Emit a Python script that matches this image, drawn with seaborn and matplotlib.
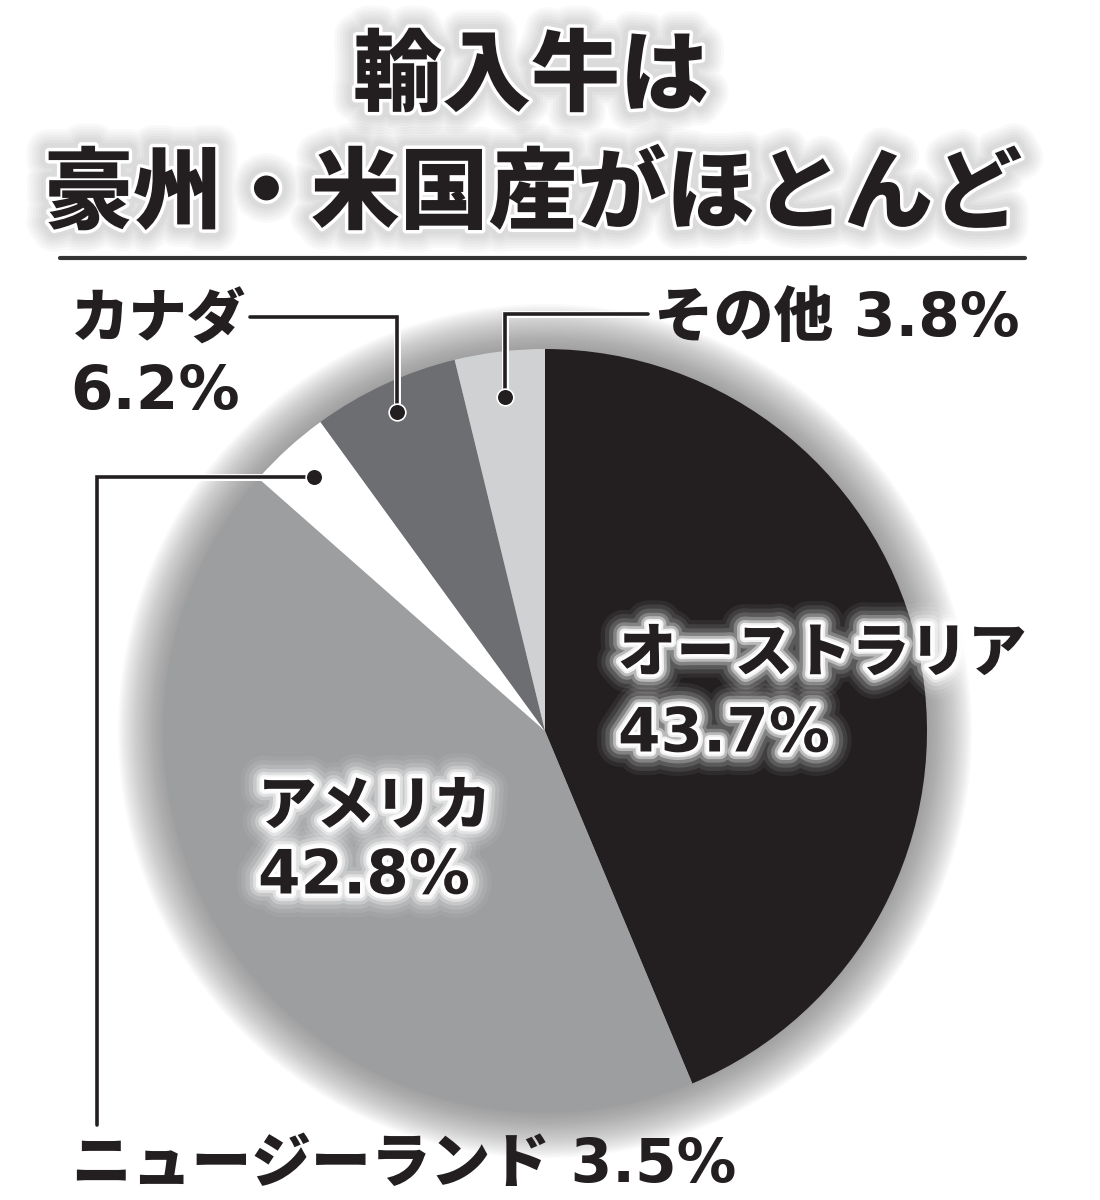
import numpy as np
import matplotlib.pyplot as plt
import matplotlib.patheffects as pe
from matplotlib.patches import Circle
import seaborn as sns

# ---- data ----
title_lines = ['輸入牛は', '豪州・米国産がほとんど']
countries = ['オーストラリア', 'アメリカ', 'ニュージーランド', 'カナダ', 'その他']
shares = [43.7, 42.8, 3.5, 6.2, 3.8]
slice_colors = ['#231f20', '#9d9ea0', '#ffffff', '#6d6e71', '#d0d1d3']

sns.set_theme(style='white')
plt.rcParams['font.family'] = ['Noto Sans CJK JP', 'DejaVu Sans']
NUM_FONT = ['DejaVu Sans', 'Noto Sans CJK JP']
INK = '#231f20'
H = 1200


def y(v):
    # pixel row (from top) -> data y
    return H - v


fig = plt.figure(figsize=(11, 12), dpi=100)
ax = fig.add_axes([0, 0, 1, 1])

cx, cy, R = 545, y(731), 382

# soft halo behind the pie
n_halo = 28
for i in range(n_halo):
    ax.add_patch(Circle((cx, cy), R + 45 * (n_halo - i) / n_halo, color='#707070',
                        alpha=0.03, lw=0, zorder=1))

wedges, _ = ax.pie(shares, colors=slice_colors, startangle=90, counterclock=False,
                   center=(cx, cy), radius=R, wedgeprops=dict(linewidth=0))
for w in wedges:
    w.set_zorder(2)

ax.set_xlim(0, 1100)
ax.set_ylim(0, H)
ax.set_aspect('equal')
ax.axis('off')

# ---- title ----
title_fx = [pe.Stroke(linewidth=w, foreground='black', alpha=0.025)
            for w in (32, 28, 24, 20, 16, 12)]
title_fx += [pe.Stroke(linewidth=5, foreground='white'), pe.Normal()]
ax.text(531, y(77), title_lines[0], ha='center', va='center', fontsize=64,
        fontweight='heavy', color=INK, path_effects=title_fx, zorder=6)
ax.text(533, y(195), title_lines[1], ha='center', va='center', fontsize=64,
        fontweight='heavy', color=INK, path_effects=title_fx, zorder=6)
ax.plot([60, 1025], [y(258), y(258)], color='#333333', lw=3, zorder=6)

# ---- labels inside the pie ----
glow = [pe.Stroke(linewidth=w, foreground='white', alpha=a)
        for w, a in ((34, 0.06), (28, 0.09), (22, 0.14), (16, 0.25), (11, 0.45), (7, 0.8))]
glow += [pe.Stroke(linewidth=4, foreground='white'), pe.Normal()]

ax.text(618, y(654), countries[0], ha='left', va='center', fontsize=42,
        fontweight='heavy', color=INK, path_effects=glow, zorder=5)
ax.text(618, y(735), f'{shares[0]}%', ha='left', va='center', fontsize=44,
        family=NUM_FONT, fontweight='bold', color=INK, path_effects=glow, zorder=5)
ax.text(258, y(807), countries[1], ha='left', va='center', fontsize=42,
        fontweight='heavy', color=INK, path_effects=glow, zorder=5)
ax.text(258, y(877), f'{shares[1]}%', ha='left', va='center', fontsize=44,
        family=NUM_FONT, fontweight='bold', color=INK, path_effects=glow, zorder=5)

# ---- leader lines for the small slices ----
line_fx = [pe.Stroke(linewidth=5, foreground='white'), pe.Normal()]


def anchor(k, frac):
    w = wedges[k]
    ang = np.deg2rad((w.theta1 + w.theta2) / 2)
    return cx + frac * R * np.cos(ang), cy + frac * R * np.sin(ang)


def leader(xs, ys, dot):
    ax.plot(xs, ys, color=INK, lw=2.6, solid_joinstyle='miter',
            path_effects=line_fx, zorder=4)
    ax.plot(*dot, 'o', ms=12, color=INK, mec='white', mew=1.2, zorder=4)


# Canada
dx, dy = anchor(3, 0.92)
leader([250, dx, dx], [y(317), y(317), dy], (dx, dy))
# others
dx, dy = anchor(4, 0.88)
leader([648, dx, dx], [y(314), y(314), dy], (dx, dy))
# New Zealand
dx, dy = anchor(2, 0.90)
leader([dx, 97, 97], [dy, dy, y(1125)], (dx, dy))

ax.text(70, y(320), countries[3], ha='left', va='center', fontsize=42,
        fontweight='heavy', color=INK, zorder=5)
ax.text(70, y(393), f'{shares[3]}%', ha='left', va='center', fontsize=44,
        family=NUM_FONT, fontweight='bold', color=INK, zorder=5)
ax.text(654, y(320), f'{countries[4]} {shares[4]}%', ha='left', va='center',
        fontsize=43, family=NUM_FONT, fontweight='heavy', color=INK, zorder=5)
ax.text(72, y(1165), f'{countries[2]} {shares[2]}%', ha='left', va='center',
        fontsize=43, family=NUM_FONT, fontweight='heavy', color=INK, zorder=5)

fig.savefig('out.png', dpi=100)
